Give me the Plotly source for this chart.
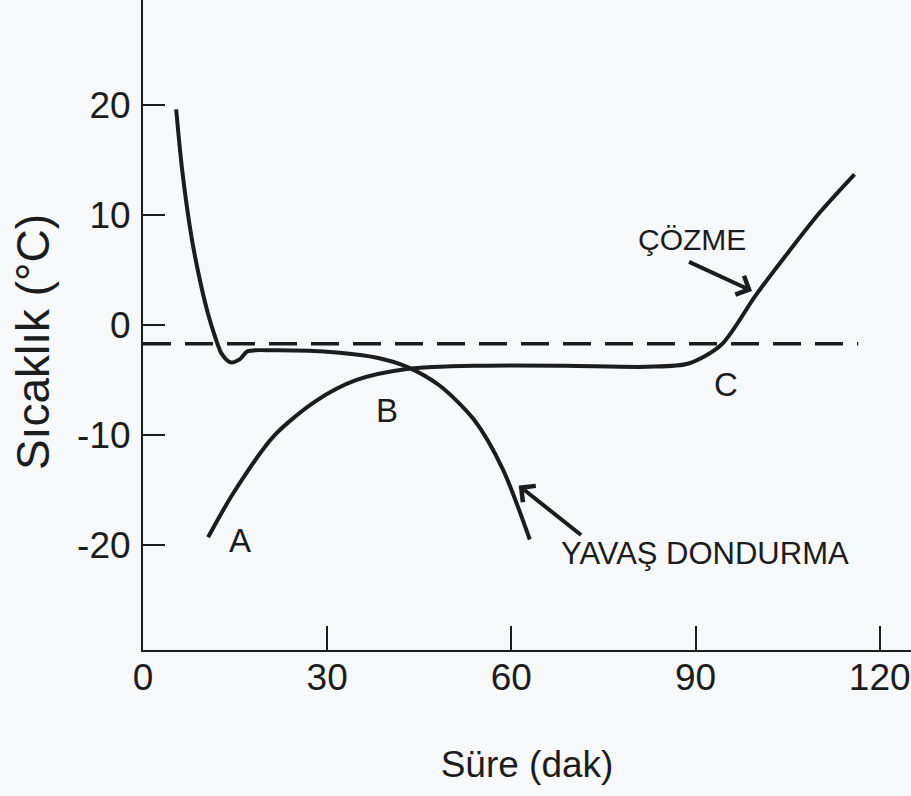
import plotly.graph_objects as go

# Slow-freezing curve (top curve: cooling, supercooling dip, plateau, drop)
slow_x = [5.4, 6.4, 7.9, 9.3, 10.6, 11.7, 12.8, 14.3, 15.8, 17.0, 21.3, 31.6, 38.3, 43.0, 48.3, 53.9, 58.6, 63.0]
slow_y = [19.6, 14.0, 8.0, 4.0, 1.0, -1.0, -2.6, -3.4, -3.1, -2.4, -2.3, -2.5, -3.0, -3.8, -5.5, -8.6, -13.1, -19.5]

# A -> B -> C -> thawing curve
thaw_x = [10.6, 14.7, 21.3, 28.2, 34.8, 43.0, 55.2, 68.7, 82.2, 88.9, 94.2, 99.8, 105.1, 110.2, 115.9]
thaw_y = [-19.3, -15.3, -10.1, -6.9, -5.0, -4.0, -3.7, -3.7, -3.8, -3.5, -1.8, 2.7, 6.6, 10.2, 13.7]

# Freezing-point reference (dashed)
ref_x = [0, 116.5]
ref_y = [-1.7, -1.7]

x_ticks = [0, 30, 60, 90, 120]
y_ticks = [-20, -10, 0, 10, 20]

FONT = "Liberation Sans, Arial, Helvetica, sans-serif"
INK = "#1c1c1c"
BG = "#f6f8fa"

fig = go.Figure()
fig.add_trace(go.Scatter(x=ref_x, y=ref_y, mode="lines",
                         line=dict(color=INK, width=3.5, dash="28px,14px"),
                         hoverinfo="skip", showlegend=False))
fig.add_trace(go.Scatter(x=slow_x, y=slow_y, mode="lines",
                         line=dict(color=INK, width=4, shape="spline", smoothing=0.8),
                         showlegend=False))
fig.add_trace(go.Scatter(x=thaw_x, y=thaw_y, mode="lines",
                         line=dict(color=INK, width=4, shape="spline", smoothing=0.8),
                         showlegend=False))

labels = [("A", 15.8, -19.6), ("B", 39.7, -7.8), ("C", 95.0, -5.4)]
for t, x, y in labels:
    fig.add_annotation(x=x, y=y, text=t, showarrow=False,
                       font=dict(family=FONT, size=33, color=INK))

fig.add_annotation(x=89.4, y=7.8, text="ÇÖZME", showarrow=False,
                   font=dict(family=FONT, size=30, color=INK))
fig.add_annotation(x=99.2, y=3.1, ax=88.7, ay=5.8, axref="x", ayref="y",
                   xref="x", yref="y", text="", showarrow=True,
                   arrowhead=4, arrowsize=1.0, arrowwidth=4, arrowcolor=INK)

fig.add_annotation(x=91.6, y=-20.8, text="YAVAŞ DONDURMA", showarrow=False,
                   font=dict(family=FONT, size=31, color=INK))
fig.add_annotation(x=61.2, y=-14.6, ax=71.6, ay=-19.2, axref="x", ayref="y",
                   xref="x", yref="y", text="", showarrow=True,
                   arrowhead=4, arrowsize=1.0, arrowwidth=4, arrowcolor=INK)

# y-axis title placed as rotated text
fig.add_annotation(xref="paper", yref="paper", x=-0.143, y=0.474, text="Sıcaklık (°C)",
                   textangle=-90, showarrow=False, xanchor="center", yanchor="middle",
                   font=dict(family=FONT, size=46, color=INK))

fig.update_layout(
    width=911, height=796,
    margin=dict(l=143, r=0, t=0, b=146),
    paper_bgcolor=BG, plot_bgcolor=BG,
    font=dict(family=FONT, color=INK),
    showlegend=False,
)
fig.update_xaxes(range=[0, 125.1], tickvals=x_ticks, ticktext=[str(v) for v in x_ticks],
                 ticks="inside", ticklen=24, tickwidth=2, tickcolor=INK,
                 showline=True, linewidth=2, linecolor=INK, showgrid=False, zeroline=False,
                 ticklabeloverflow="allow", ticklabelstandoff=-6,
                 tickfont=dict(family=FONT, size=37, color=INK),
                 title=dict(text="Süre (dak)", font=dict(family=FONT, size=37, color=INK), standoff=54))
fig.update_yaxes(range=[-29.55, 29.55], tickvals=y_ticks, ticktext=[str(v) for v in y_ticks],
                 ticks="inside", ticklen=22, tickwidth=2, tickcolor=INK,
                 showline=True, linewidth=2, linecolor=INK, showgrid=False, zeroline=False,
                 ticklabelstandoff=3,
                 tickfont=dict(family=FONT, size=37, color=INK))

fig.write_html("out.html", config={"displayModeBar": False},
               post_script="document.body.style.margin='0';document.body.style.background='%s';" % BG)
